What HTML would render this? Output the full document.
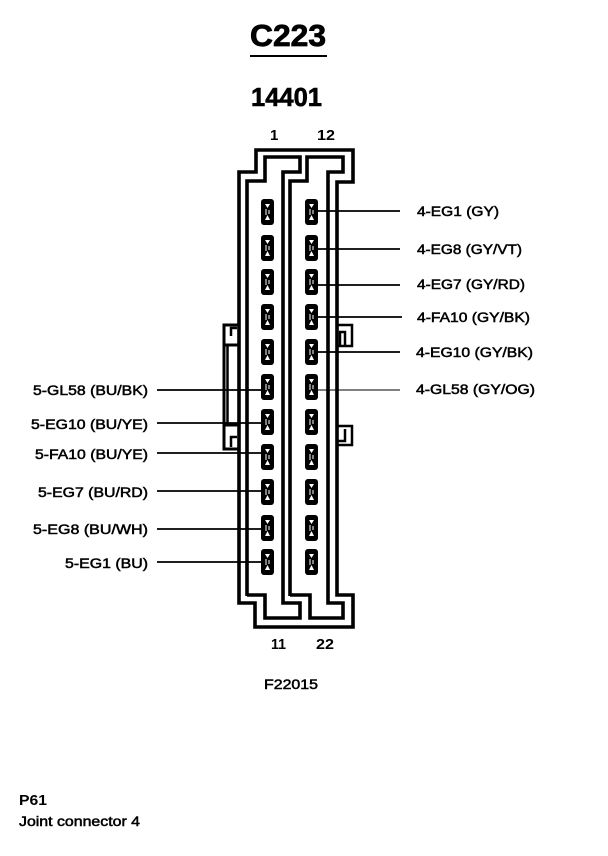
<!DOCTYPE html>
<html><head><meta charset="utf-8"><style>
html,body{margin:0;padding:0;background:#fff}
svg{display:block}
text{font-family:"Liberation Sans",sans-serif;fill:#000}
.l{font-size:13.5px;stroke:#000;stroke-width:.5px}
.n{font-size:15px;font-weight:bold}
</style></head><body>
<svg width="608" height="856" viewBox="0 0 608 856" xmlns="http://www.w3.org/2000/svg">
<rect width="608" height="856" fill="#fff"/>
<text x="250" y="46" font-size="31" font-weight="bold" stroke="#000" stroke-width=".8" textLength="76" lengthAdjust="spacingAndGlyphs">C223</text>
<rect x="250" y="55" width="77" height="2" fill="#000"/>
<text x="251" y="106" font-size="26" font-weight="bold" stroke="#000" stroke-width=".6" textLength="71" lengthAdjust="spacingAndGlyphs">14401</text>
<text class="n" x="270" y="140">1</text>
<text class="n" x="317" y="140" textLength="18" lengthAdjust="spacingAndGlyphs">12</text>
<text class="n" x="271" y="649" textLength="15" lengthAdjust="spacingAndGlyphs">11</text>
<text class="n" x="316" y="649" textLength="18" lengthAdjust="spacingAndGlyphs">22</text>
<text x="264" y="689" class="l" textLength="54" lengthAdjust="spacingAndGlyphs">F22015</text>
<text x="19" y="805" font-size="15" font-weight="bold" textLength="28" lengthAdjust="spacingAndGlyphs">P61</text>
<text x="19" y="826" class="l" textLength="121" lengthAdjust="spacingAndGlyphs">Joint connector 4</text>
<g fill="none" stroke="#000" stroke-width="3.6">
<path d="M256 150H353V182H337V595H353V627H255V603H239V172H256Z"/>
<path d="M247 596V181H265V157H300V172H283V603H300V618H265V595H247"/>
<path d="M290 596V181H307V157H343V172H328V603H343V618H310V595H290"/>
</g>
<g fill="none" stroke="#000" stroke-width="3">
<path d="M239 325H224V449H239"/>
<path d="M227.500 345V426" stroke-width="2.500"/>
<path d="M238 345H224M238 425H224"/>
<path d="M237 328H231V336" stroke-width="2.500"/>
<path d="M237 437H231V447" stroke-width="2.500"/>
<path d="M337 325H352V346H337" stroke-width="2.500"/>
<path d="M340 346V332H345V346" stroke-width="2.500"/>
<path d="M337 426H352V445H337" stroke-width="2.500"/>
<path d="M345 429V441H338" stroke-width="2.500"/>
</g>
<g id="pins" fill="#000">
<rect x="261" y="199" width="13" height="26" rx="3"/><rect x="261" y="235" width="13" height="26" rx="3"/><rect x="261" y="269" width="13" height="26" rx="3"/><rect x="261" y="304" width="13" height="26" rx="3"/><rect x="261" y="339" width="13" height="26" rx="3"/><rect x="261" y="374" width="13" height="26" rx="3"/><rect x="261" y="409" width="13" height="26" rx="3"/><rect x="261" y="444" width="13" height="26" rx="3"/><rect x="261" y="479" width="13" height="26" rx="3"/><rect x="261" y="515" width="13" height="26" rx="3"/><rect x="261" y="549" width="13" height="26" rx="3"/>
<rect x="305" y="199" width="13" height="26" rx="3"/><rect x="305" y="235" width="13" height="26" rx="3"/><rect x="305" y="269" width="13" height="26" rx="3"/><rect x="305" y="304" width="13" height="26" rx="3"/><rect x="305" y="339" width="13" height="26" rx="3"/><rect x="305" y="374" width="13" height="26" rx="3"/><rect x="305" y="409" width="13" height="26" rx="3"/><rect x="305" y="444" width="13" height="26" rx="3"/><rect x="305" y="479" width="13" height="26" rx="3"/><rect x="305" y="515" width="13" height="26" rx="3"/><rect x="305" y="549" width="13" height="26" rx="3"/>
</g>
<g fill="#fff">
<path d="M265 204h5l-2.500 4zM265 220h5l-2.500-5zM265 240h5l-2.500 4zM265 256h5l-2.500-5zM265 274h5l-2.500 4zM265 290h5l-2.500-5zM265 309h5l-2.500 4zM265 325h5l-2.500-5zM265 344h5l-2.500 4zM265 360h5l-2.500-5zM265 379h5l-2.500 4zM265 395h5l-2.500-5zM265 414h5l-2.500 4zM265 430h5l-2.500-5zM265 449h5l-2.500 4zM265 465h5l-2.500-5zM265 484h5l-2.500 4zM265 500h5l-2.500-5zM265 520h5l-2.500 4zM265 536h5l-2.500-5zM265 554h5l-2.500 4zM265 570h5l-2.500-5z"/>
<path d="M309 204h5l-2.500 4zM309 220h5l-2.500-5zM309 240h5l-2.500 4zM309 256h5l-2.500-5zM309 274h5l-2.500 4zM309 290h5l-2.500-5zM309 309h5l-2.500 4zM309 325h5l-2.500-5zM309 344h5l-2.500 4zM309 360h5l-2.500-5zM309 379h5l-2.500 4zM309 395h5l-2.500-5zM309 414h5l-2.500 4zM309 430h5l-2.500-5zM309 449h5l-2.500 4zM309 465h5l-2.500-5zM309 484h5l-2.500 4zM309 500h5l-2.500-5zM309 520h5l-2.500 4zM309 536h5l-2.500-5zM309 554h5l-2.500 4zM309 570h5l-2.500-5z"/>
</g>
<g stroke="#fff" stroke-width="1" fill="none">
<path d="M266 209v6M269 210v4M310 209v6M313 210v4M266 245v6M269 246v4M310 245v6M313 246v4M266 279v6M269 280v4M310 279v6M313 280v4M266 314v6M269 315v4M310 314v6M313 315v4M266 349v6M269 350v4M310 349v6M313 350v4M266 384v6M269 385v4M310 384v6M313 385v4M266 419v6M269 420v4M310 419v6M313 420v4M266 454v6M269 455v4M310 454v6M313 455v4M266 489v6M269 490v4M310 489v6M313 490v4M266 525v6M269 526v4M310 525v6M313 526v4M266 559v6M269 560v4M310 559v6M313 560v4"/>
</g>
<g stroke="#000" stroke-width="1.800" fill="none">
<path d="M318 211H400M318 249H400M318 285H400M318 317H402M318 352H400"/>
<path d="M318 390H400" stroke-width="1"/>
<path d="M157 390H261M157 423H261M157 453H261M157 491H261M157 529H261M157 562H261"/>
</g>
<g class="lab">
<text class="l" x="417" y="216" textLength="82" lengthAdjust="spacingAndGlyphs">4-EG1 (GY)</text>
<text class="l" x="417" y="254" textLength="105" lengthAdjust="spacingAndGlyphs">4-EG8 (GY/VT)</text>
<text class="l" x="417" y="289" textLength="108" lengthAdjust="spacingAndGlyphs">4-EG7 (GY/RD)</text>
<text class="l" x="417" y="322" textLength="113" lengthAdjust="spacingAndGlyphs">4-FA10 (GY/BK)</text>
<text class="l" x="416" y="357" textLength="117" lengthAdjust="spacingAndGlyphs">4-EG10 (GY/BK)</text>
<text class="l" x="416" y="394" textLength="119" lengthAdjust="spacingAndGlyphs">4-GL58 (GY/OG)</text>
<text class="l" x="33" y="395" textLength="115" lengthAdjust="spacingAndGlyphs">5-GL58 (BU/BK)</text>
<text class="l" x="31" y="429" textLength="117" lengthAdjust="spacingAndGlyphs">5-EG10 (BU/YE)</text>
<text class="l" x="35" y="459" textLength="113" lengthAdjust="spacingAndGlyphs">5-FA10 (BU/YE)</text>
<text class="l" x="38" y="497" textLength="110" lengthAdjust="spacingAndGlyphs">5-EG7 (BU/RD)</text>
<text class="l" x="33" y="534" textLength="115" lengthAdjust="spacingAndGlyphs">5-EG8 (BU/WH)</text>
<text class="l" x="65" y="568" textLength="83" lengthAdjust="spacingAndGlyphs">5-EG1 (BU)</text>
</g>
</svg>
</body></html>
